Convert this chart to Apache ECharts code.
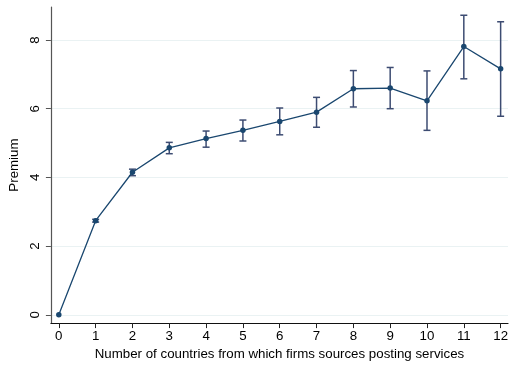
<!DOCTYPE html>
<html><head><meta charset="utf-8">
<script src="https://cdn.jsdelivr.net/npm/echarts@6/dist/echarts.min.js"></script>
<style>html,body{margin:0;padding:0;background:#fff}#c{width:511px;height:366px}</style>
</head><body><div id="c"></div>
<script>
const countries = [0,1,2,3,4,5,6,7,8,9,10,11,12];
const premium = [0,2.74,4.15,4.86,5.13,5.37,5.63,5.90,6.58,6.60,6.23,7.81,7.16];
const ciLow  = [0,2.70,4.05,4.69,4.88,5.06,5.24,5.46,6.05,6.00,5.37,6.87,5.78];
const ciHigh = [0,2.78,4.24,5.02,5.35,5.67,6.02,6.33,7.11,7.20,7.10,8.72,8.53];
const yTicks = [0,2,4,6,8];
const xTicks = [0,1,2,3,4,5,6,7,8,9,10,11,12];

const lineData = countries.map((c,i)=>[c,premium[i]]);
const ciData = countries.map((c,i)=>[c,ciLow[i],ciHigh[i]]).filter(d=>d[2]>d[1]);
const font = 'Liberation Sans, Arial, sans-serif';
const chart = echarts.init(document.getElementById('c'));
chart.setOption({
  animation:false,
  backgroundColor:'#fff',
  grid:{left:49,top:7,right:0,bottom:41,containLabel:false},
  xAxis:{type:'value',min:-0.215,max:12.2,
    name:'Number of countries from which firms sources posting services',
    nameLocation:'middle',nameGap:22,
    nameTextStyle:{fontFamily:font,fontSize:13.3,color:'#000'},
    axisLine:{show:true,onZero:false,lineStyle:{color:'#111',width:1.2}},
    axisTick:{show:true,length:5,customValues:xTicks,lineStyle:{color:'#222'}},
    axisLabel:{customValues:xTicks,fontFamily:font,fontSize:13.3,color:'#000',margin:7},
    splitLine:{show:false}},
  yAxis:{type:'value',min:-0.24,max:8.96,
    name:'Premium',nameLocation:'middle',nameGap:25,
    nameTextStyle:{fontFamily:font,fontSize:13.3,color:'#000'},
    axisLine:{show:true,onZero:false,lineStyle:{color:'#555',width:1.2}},
    axisTick:{show:true,length:5,customValues:yTicks,lineStyle:{color:'#555'}},
    axisLabel:{customValues:yTicks,rotate:90,fontFamily:font,fontSize:13.3,color:'#000',margin:9},
    splitLine:{show:true,lineStyle:{color:'#eaf2f3',width:1.2}}},
  series:[
    {type:'custom',data:ciData,z:3,
     renderItem:function(params,api){
       const x=api.value(0);
       const lo=api.coord([x,api.value(1)]);
       const hi=api.coord([x,api.value(2)]);
       const w=3.5;
       const st={stroke:'#3d4c72',lineWidth:1.5};
       return {type:'group',children:[
         {type:'line',shape:{x1:lo[0],y1:lo[1],x2:hi[0],y2:hi[1]},style:st},
         {type:'line',shape:{x1:lo[0]-w,y1:lo[1],x2:lo[0]+w,y2:lo[1]},style:st},
         {type:'line',shape:{x1:hi[0]-w,y1:hi[1],x2:hi[0]+w,y2:hi[1]},style:st}
       ]};
     }},
    {type:'line',data:lineData,z:4,symbol:'circle',symbolSize:5.5,
     lineStyle:{color:'#1a476f',width:1.3},
     itemStyle:{color:'#1a476f'}}
  ]
});
</script></body></html>
